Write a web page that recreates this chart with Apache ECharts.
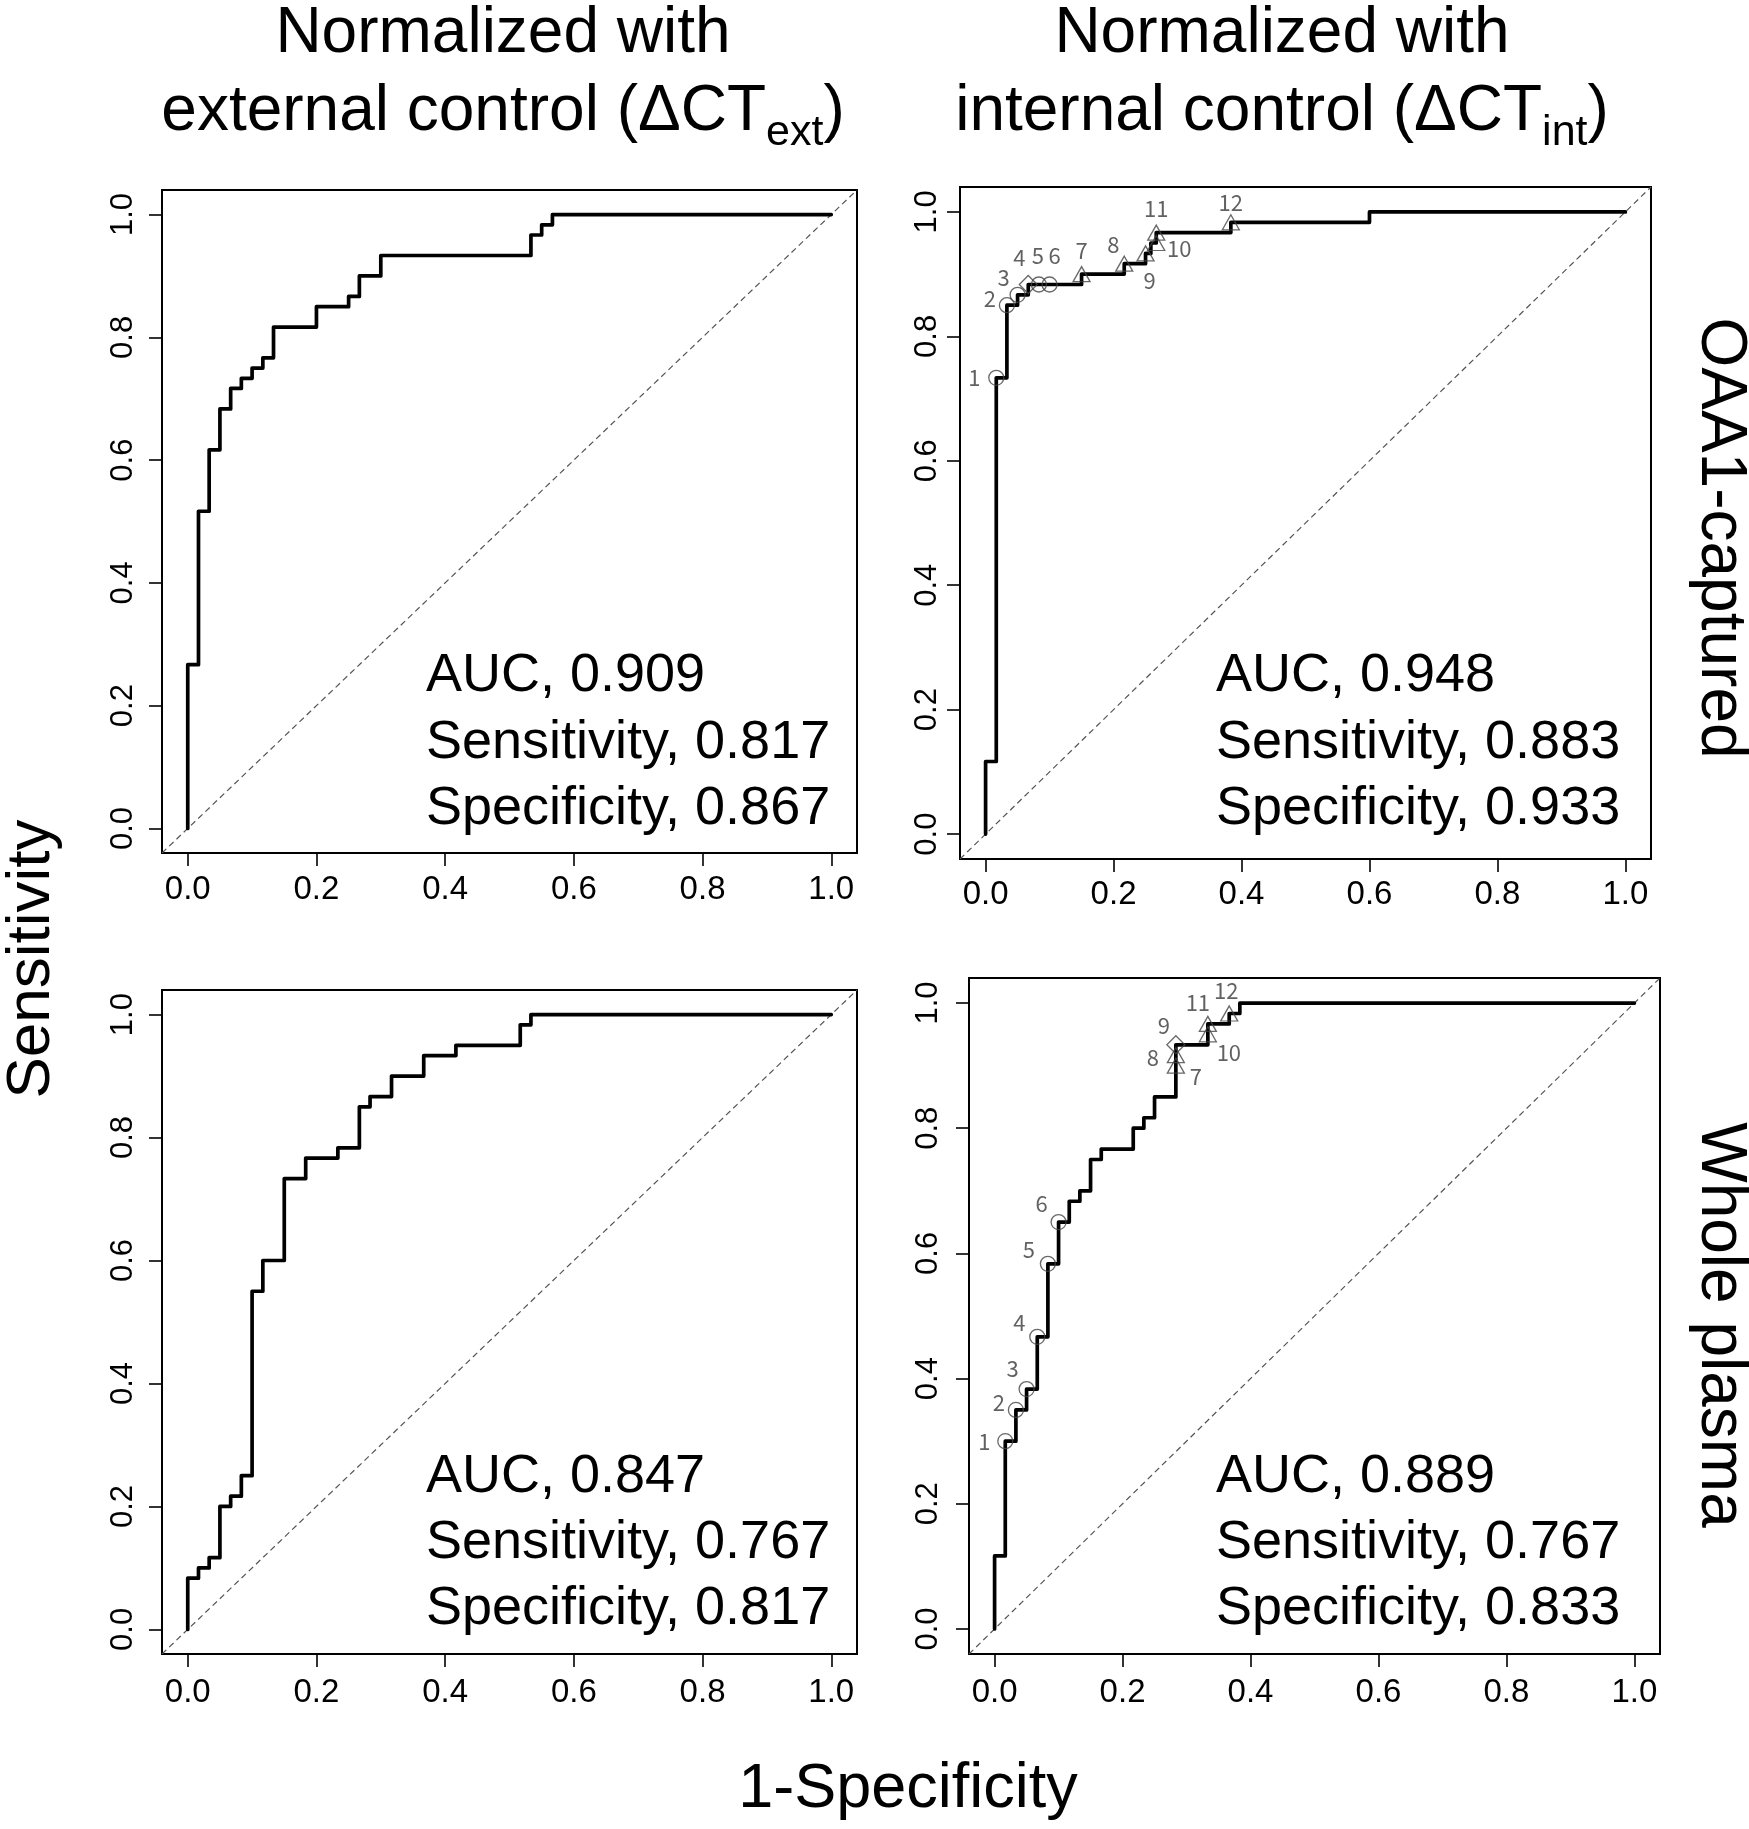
<!DOCTYPE html>
<html>
<head>
<meta charset="utf-8">
<script src="https://cdn.jsdelivr.net/npm/echarts@6.0.0/dist/echarts.min.js"></script>
<style>
html,body{margin:0;padding:0;background:#fff;}
#c{width:1749px;height:1829px;}
</style>
</head>
<body>
<div id="c"></div>
<script>
// ---------------- DATA ----------------
const tickValues = [0, 0.2, 0.4, 0.6, 0.8, 1.0];

const colTitleLine1 = ['Normalized with', 'Normalized with'];
const colTitleLine2 = ['external control (\u0394CT', 'internal control (\u0394CT'];
const colTitleSub = ['ext', 'int'];
const rowLabels = ['OAA1-captured', 'Whole plasma'];
const yAxisTitle = 'Sensitivity';
const xAxisTitle = '1-Specificity';

// panels order: TL (OAA1, ext), TR (OAA1, int), BL (Whole, ext), BR (Whole, int)
const aucValues = [0.909, 0.948, 0.847, 0.889];
const sensValues = [0.817, 0.883, 0.767, 0.767];
const specValues = [0.867, 0.933, 0.817, 0.833];

// ROC curve vertices (1-specificity, sensitivity)
const TL_fpr = [0,0,0.0167,0.0167,0.0333,0.0333,0.05,0.05,0.0667,0.0667,0.0833,0.0833,0.1,0.1,0.1167,0.1167,0.1333,0.1333,0.2,0.2,0.25,0.25,0.2667,0.2667,0.3,0.3,0.5333,0.5333,0.55,0.55,0.5667,0.5667,1];
const TL_tpr = [0,0.2667,0.2667,0.5167,0.5167,0.6167,0.6167,0.6833,0.6833,0.7167,0.7167,0.7333,0.7333,0.75,0.75,0.7667,0.7667,0.8167,0.8167,0.85,0.85,0.8667,0.8667,0.9,0.9,0.9333,0.9333,0.9667,0.9667,0.9833,0.9833,1,1];

const TR_fpr = [0,0,0.0167,0.0167,0.0333,0.0333,0.05,0.05,0.0667,0.0667,0.15,0.15,0.2167,0.2167,0.25,0.25,0.2583,0.2583,0.2667,0.2667,0.3833,0.3833,0.6,0.6,1];
const TR_tpr = [0,0.1167,0.1167,0.7333,0.7333,0.85,0.85,0.8667,0.8667,0.8833,0.8833,0.9,0.9,0.9167,0.9167,0.9333,0.9333,0.95,0.95,0.9667,0.9667,0.9833,0.9833,1,1];

const BL_fpr = [0,0,0.0167,0.0167,0.0333,0.0333,0.05,0.05,0.0667,0.0667,0.0833,0.0833,0.1,0.1,0.1167,0.1167,0.15,0.15,0.1833,0.1833,0.2333,0.2333,0.2667,0.2667,0.2833,0.2833,0.3167,0.3167,0.3667,0.3667,0.4167,0.4167,0.5167,0.5167,0.5333,0.5333,1];
const BL_tpr = [0,0.0833,0.0833,0.1,0.1,0.1167,0.1167,0.2,0.2,0.2167,0.2167,0.25,0.25,0.55,0.55,0.6,0.6,0.7333,0.7333,0.7667,0.7667,0.7833,0.7833,0.85,0.85,0.8667,0.8667,0.9,0.9,0.9333,0.9333,0.95,0.95,0.9833,0.9833,1,1];

const BR_fpr = [0,0,0.0167,0.0167,0.0333,0.0333,0.05,0.05,0.0667,0.0667,0.0833,0.0833,0.1,0.1,0.1167,0.1167,0.1333,0.1333,0.15,0.15,0.1667,0.1667,0.2167,0.2167,0.2333,0.2333,0.25,0.25,0.2833,0.2833,0.3333,0.3333,0.3667,0.3667,0.3833,0.3833,1];
const BR_tpr = [0,0.1167,0.1167,0.3,0.3,0.35,0.35,0.3833,0.3833,0.4667,0.4667,0.5833,0.5833,0.65,0.65,0.6833,0.6833,0.7,0.7,0.75,0.75,0.7667,0.7667,0.8,0.8,0.8167,0.8167,0.85,0.85,0.9333,0.9333,0.9667,0.9667,0.9833,0.9833,1,1];

// numbered cut-off points (right-hand panels); kind: o = circle, d = diamond, t = triangle
const TR_cut_fpr = [0.0167,0.0333,0.05,0.0667,0.0833,0.1,0.15,0.2167,0.25,0.2667,0.2667,0.3833];
const TR_cut_tpr = [0.7333,0.85,0.8667,0.8833,0.8833,0.8833,0.9,0.9167,0.9333,0.95,0.9667,0.9833];
const TR_cut_kind = ['o','o','o','d','o','o','t','t','t','t','t','t'];
const BR_cut_fpr = [0.0167,0.0333,0.05,0.0667,0.0833,0.1,0.2833,0.2833,0.2833,0.3333,0.3333,0.3667];
const BR_cut_tpr = [0.3,0.35,0.3833,0.4667,0.5833,0.65,0.9,0.9167,0.9333,0.95,0.9667,0.9833];
const BR_cut_kind = ['o','o','o','o','o','o','t','t','d','t','t','t'];
const cutLabels = ['1','2','3','4','5','6','7','8','9','10','11','12'];

// ---------------- LAYOUT / STYLE ----------------
const FONT = '"Liberation Sans", Arial, Helvetica, sans-serif';
const NUM_FONT = '"Noto Sans CJK JP", "DejaVu Sans", sans-serif';
const AXIS_MIN = -0.04, AXIS_MAX = 1.04;

const grids = [
  {left: 162, top: 190, width: 695, height: 663},
  {left: 960, top: 187, width: 691, height: 672},
  {left: 162, top: 990, width: 695, height: 664},
  {left: 969, top: 978, width: 691, height: 676}
];
const xLabelMargin = [20, 19, 22, 22];
const yLabelMargin = [23, 17, 23, 25];

// label offsets (px) for the numbered points
const TR_labelOffsetPx = [[-22,0],[-17,-7],[-14,-17],[-9,-27],[-1,-29],[5,-29],[0,-23],[-11,-19],[4,27],[23,6],[0,-24],[0,-20]];
const BR_labelOffsetPx = [[-21,0],[-17,-7],[-14,-20],[-18,-14],[-19,-14],[-17,-18],[20,11],[-23,2],[-12,-19],[21,18],[-10,-21],[-3,-23]];

const statsLeft = [426, 1216, 426, 1216];
const statsMid = [[676, 743, 809], [676, 743, 809], [1477, 1543, 1609], [1477, 1543, 1609]];

// ---------------- BUILD ----------------
function zip(xs, ys) { return xs.map((x, i) => [x, ys[i]]); }
const curves = [zip(TL_fpr, TL_tpr), zip(TR_fpr, TR_tpr), zip(BL_fpr, BL_tpr), zip(BR_fpr, BR_tpr)];

const symbolFor = {o: 'circle', d: 'diamond', t: 'triangle'};
const sizeFor = {o: [15, 15], d: [18, 18], t: [17, 15]};

function cutSeries(gi, fpr, tpr, kind, offs) {
  return {
    type: 'scatter', xAxisIndex: gi, yAxisIndex: gi, z: 5, silent: true,
    data: fpr.map((x, i) => ({
      name: cutLabels[i],
      value: [x, tpr[i]],
      symbol: symbolFor[kind[i]],
      symbolSize: sizeFor[kind[i]],
      label: {show: true, formatter: cutLabels[i], position: 'inside', offset: offs[i],
               fontSize: 22, color: '#3a3a3a', fontFamily: NUM_FONT}
    })),
    itemStyle: {color: 'rgba(0,0,0,0)', borderColor: '#444', borderWidth: 1.3}
  };
}

function axisFor(i, isY) {
  return {
    type: 'value', gridIndex: i, min: AXIS_MIN, max: AXIS_MAX,
    axisLine: {show: false, onZero: false}, splitLine: {show: false},
    axisTick: {show: true, inside: false, length: 13, customValues: tickValues, lineStyle: {color: '#000', width: 1.6}},
    axisLabel: {show: true, customValues: tickValues, formatter: v => Number(v).toFixed(1),
                margin: isY ? yLabelMargin[i] : xLabelMargin[i], rotate: isY ? 90 : 0,
                fontSize: isY ? 31 : 33, color: '#000', fontFamily: FONT}
  };
}
const xAxes = grids.map((g, i) => axisFor(i, false));
const yAxes = grids.map((g, i) => axisFor(i, true));

const series = [];
grids.forEach((g, i) => {
  series.push({
    type: 'line', xAxisIndex: i, yAxisIndex: i, silent: true, symbol: 'none', z: 2,
    data: [[AXIS_MIN, AXIS_MIN], [AXIS_MAX, AXIS_MAX]],
    lineStyle: {color: '#555', width: 1.2, type: [6, 4]}
  });
  series.push({
    type: 'line', xAxisIndex: i, yAxisIndex: i, silent: true, symbol: 'none', z: 3,
    data: curves[i], lineStyle: {color: '#000', width: 3.7, cap: 'round', join: 'round'}
  });
});
series.push(cutSeries(1, TR_cut_fpr, TR_cut_tpr, TR_cut_kind, TR_labelOffsetPx));
series.push(cutSeries(3, BR_cut_fpr, BR_cut_tpr, BR_cut_kind, BR_labelOffsetPx));

// text measuring for the subscripted titles
const mctx = document.createElement('canvas').getContext('2d');
function textWidth(t, size) { mctx.font = size + 'px ' + FONT; return mctx.measureText(t).width; }

const graphic = [];
function txt(x, y, text, size, align, rotation) {
  graphic.push({type: 'text', x: x, y: y, rotation: rotation || 0, silent: true,
    style: {text: text, fontSize: size, fontFamily: FONT, fill: '#000', textAlign: align || 'center', textVerticalAlign: 'middle', verticalAlign: 'middle'}});
}

const TITLE_SIZE = 64, SUB_SIZE = 43;
const titleCenters = [503, 1282];
titleCenters.forEach((cx, c) => {
  txt(cx, 34, colTitleLine1[c], TITLE_SIZE, 'center');
  const w1 = textWidth(colTitleLine2[c], TITLE_SIZE);
  const w2 = textWidth(colTitleSub[c], SUB_SIZE);
  const w3 = textWidth(')', TITLE_SIZE);
  let x0 = cx - (w1 + w2 + w3) / 2;
  txt(x0, 112, colTitleLine2[c], TITLE_SIZE, 'left');
  txt(x0 + w1, 133, colTitleSub[c], SUB_SIZE, 'left');
  txt(x0 + w1 + w2, 112, ')', TITLE_SIZE, 'left');
});

txt(1720, 538, rowLabels[0], TITLE_SIZE, 'center', -Math.PI / 2);
txt(1720, 1325, rowLabels[1], TITLE_SIZE, 'center', -Math.PI / 2);
txt(32, 959, yAxisTitle, 62, 'center', Math.PI / 2);
txt(908, 1790, xAxisTitle, 63, 'center');

grids.forEach((g, i) => {
  const lines = ['AUC, ' + aucValues[i].toFixed(3), 'Sensitivity, ' + sensValues[i].toFixed(3), 'Specificity, ' + specValues[i].toFixed(3)];
  lines.forEach((l, k) => txt(statsLeft[i], statsMid[i][k], l, 54, 'left'));
});

const chart = echarts.init(document.getElementById('c'), null, {renderer: 'canvas', width: 1749, height: 1829});
chart.setOption({
  backgroundColor: '#fff',
  animation: false,
  grid: grids.map(g => Object.assign({show: true, borderColor: '#000', borderWidth: 2, backgroundColor: 'transparent', containLabel: false}, g)),
  xAxis: xAxes,
  yAxis: yAxes,
  series: series,
  graphic: graphic
});
</script>
</body>
</html>
